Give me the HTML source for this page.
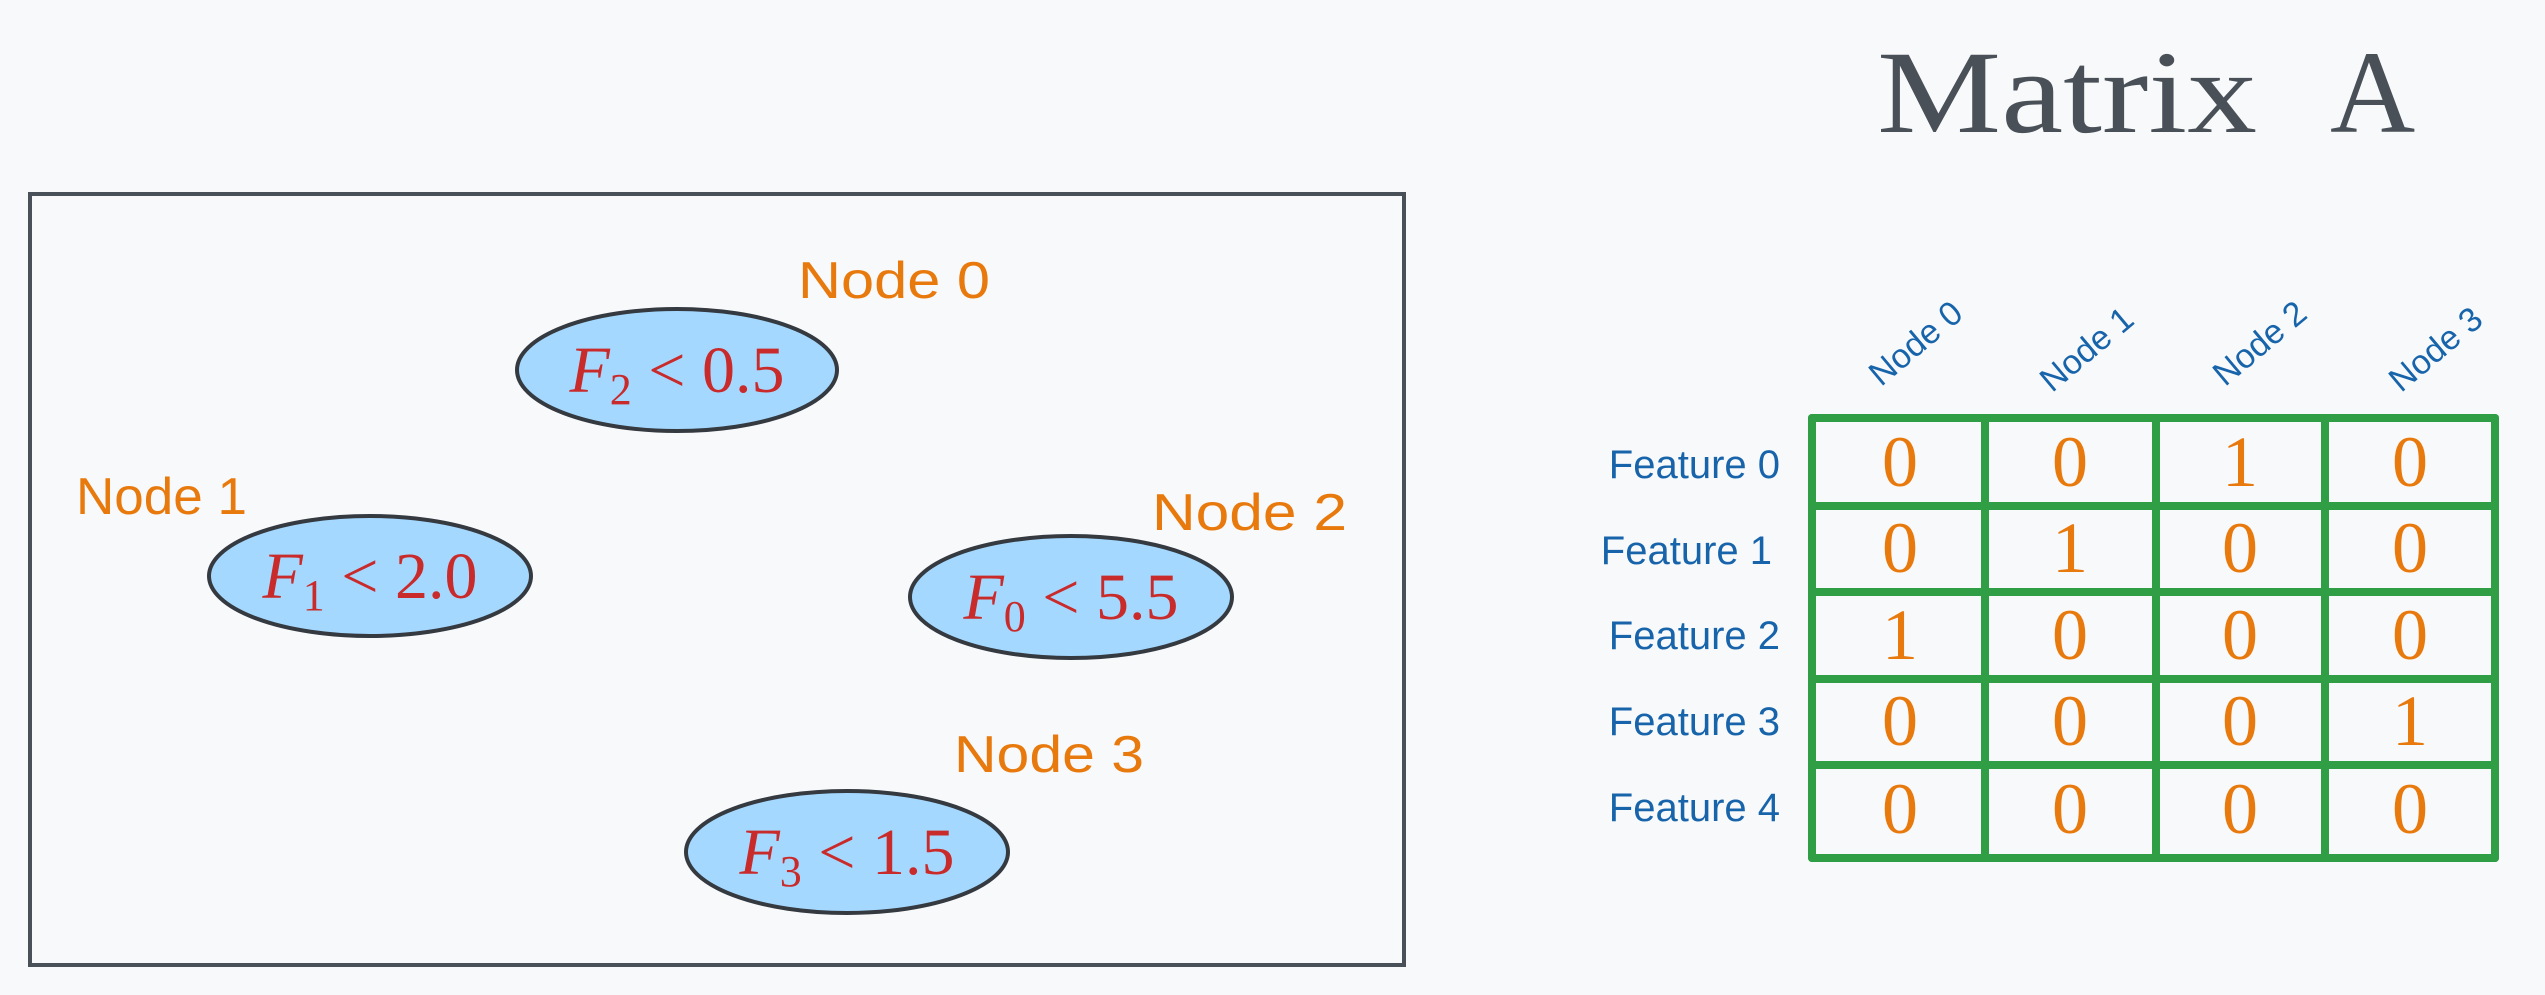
<!DOCTYPE html>
<html><head><meta charset="utf-8"><style>
html,body{margin:0;padding:0;background:#f8f9fb;}
svg{display:block}
.h{font-family:"Liberation Sans",sans-serif;}
.f{font-family:"Liberation Serif",serif;fill:#c92a2a;font-size:66px;}
</style></head><body>
<svg width="2545" height="995" viewBox="0 0 2545 995" xmlns="http://www.w3.org/2000/svg">
<rect width="2545" height="995" fill="#f8f9fb"/>
<g font-family="Liberation Serif,serif" font-size="118" fill="#495057">
<text x="1877" y="132" textLength="380" lengthAdjust="spacingAndGlyphs">Matrix</text>
<text x="2330" y="132">A</text>
</g>
<rect x="30" y="194" width="1374" height="771" fill="none" stroke="#495057" stroke-width="4"/>
<g fill="#a5d8ff" stroke="#343a40" stroke-width="4">
<ellipse cx="677" cy="370" rx="160" ry="61"/>
<ellipse cx="370" cy="576" rx="161" ry="60"/>
<ellipse cx="1071" cy="597" rx="161" ry="61"/>
<ellipse cx="847" cy="852" rx="161" ry="61"/>
</g>
<g class="f" text-anchor="middle">
<text x="677" y="392"><tspan font-style="italic">F</tspan><tspan font-size="44" dy="12">2</tspan><tspan dy="-12"> &lt; 0.5</tspan></text>
<text x="370" y="598"><tspan font-style="italic">F</tspan><tspan font-size="44" dy="12">1</tspan><tspan dy="-12"> &lt; 2.0</tspan></text>
<text x="1071" y="619"><tspan font-style="italic">F</tspan><tspan font-size="44" dy="12">0</tspan><tspan dy="-12"> &lt; 5.5</tspan></text>
<text x="847" y="874"><tspan font-style="italic">F</tspan><tspan font-size="44" dy="12">3</tspan><tspan dy="-12"> &lt; 1.5</tspan></text>
</g>
<g class="h" fill="#e8790c" font-size="52">
<text x="798" y="298" textLength="192" lengthAdjust="spacingAndGlyphs">Node 0</text>
<text x="76" y="514" textLength="171" lengthAdjust="spacingAndGlyphs">Node 1</text>
<text x="1152" y="530" textLength="195" lengthAdjust="spacingAndGlyphs">Node 2</text>
<text x="954" y="772" textLength="190" lengthAdjust="spacingAndGlyphs">Node 3</text>
</g>
<g stroke="#2f9e44" stroke-width="8" fill="none" stroke-linecap="round">
<line x1="1812" y1="418" x2="2495" y2="418"/>
<line x1="1812" y1="506" x2="2495" y2="506"/>
<line x1="1812" y1="592" x2="2495" y2="592"/>
<line x1="1812" y1="679" x2="2495" y2="679"/>
<line x1="1812" y1="765" x2="2495" y2="765"/>
<line x1="1812" y1="858" x2="2495" y2="858"/>
<line x1="1812" y1="418" x2="1812" y2="858"/>
<line x1="1985" y1="418" x2="1985" y2="858"/>
<line x1="2156" y1="418" x2="2156" y2="858"/>
<line x1="2325" y1="418" x2="2325" y2="858"/>
<line x1="2495" y1="418" x2="2495" y2="858"/>
</g>
<g font-family="Liberation Serif,serif" font-size="72" fill="#e8790c" text-anchor="middle">
<text x="1900" y="486">0</text><text x="2070" y="486">0</text><text x="2240" y="486">1</text><text x="2410" y="486">0</text>
<text x="1900" y="572">0</text><text x="2070" y="572">1</text><text x="2240" y="572">0</text><text x="2410" y="572">0</text>
<text x="1900" y="659">1</text><text x="2070" y="659">0</text><text x="2240" y="659">0</text><text x="2410" y="659">0</text>
<text x="1900" y="745">0</text><text x="2070" y="745">0</text><text x="2240" y="745">0</text><text x="2410" y="745">1</text>
<text x="1900" y="833">0</text><text x="2070" y="833">0</text><text x="2240" y="833">0</text><text x="2410" y="833">0</text>
</g>
<g class="h" fill="#1864ab" font-size="40" text-anchor="end">
<text x="1780" y="478">Feature 0</text>
<text x="1772" y="564">Feature 1</text>
<text x="1780" y="649">Feature 2</text>
<text x="1780" y="735">Feature 3</text>
<text x="1780" y="821">Feature 4</text>
</g>
<g class="h" fill="#1864ab" font-size="34" text-anchor="middle">
<text transform="translate(1923,352) rotate(-40)">Node 0</text>
<text transform="translate(2094,358) rotate(-40)">Node 1</text>
<text transform="translate(2267,352) rotate(-40)">Node 2</text>
<text transform="translate(2443,358) rotate(-40)">Node 3</text>
</g>
</svg>
</body></html>
